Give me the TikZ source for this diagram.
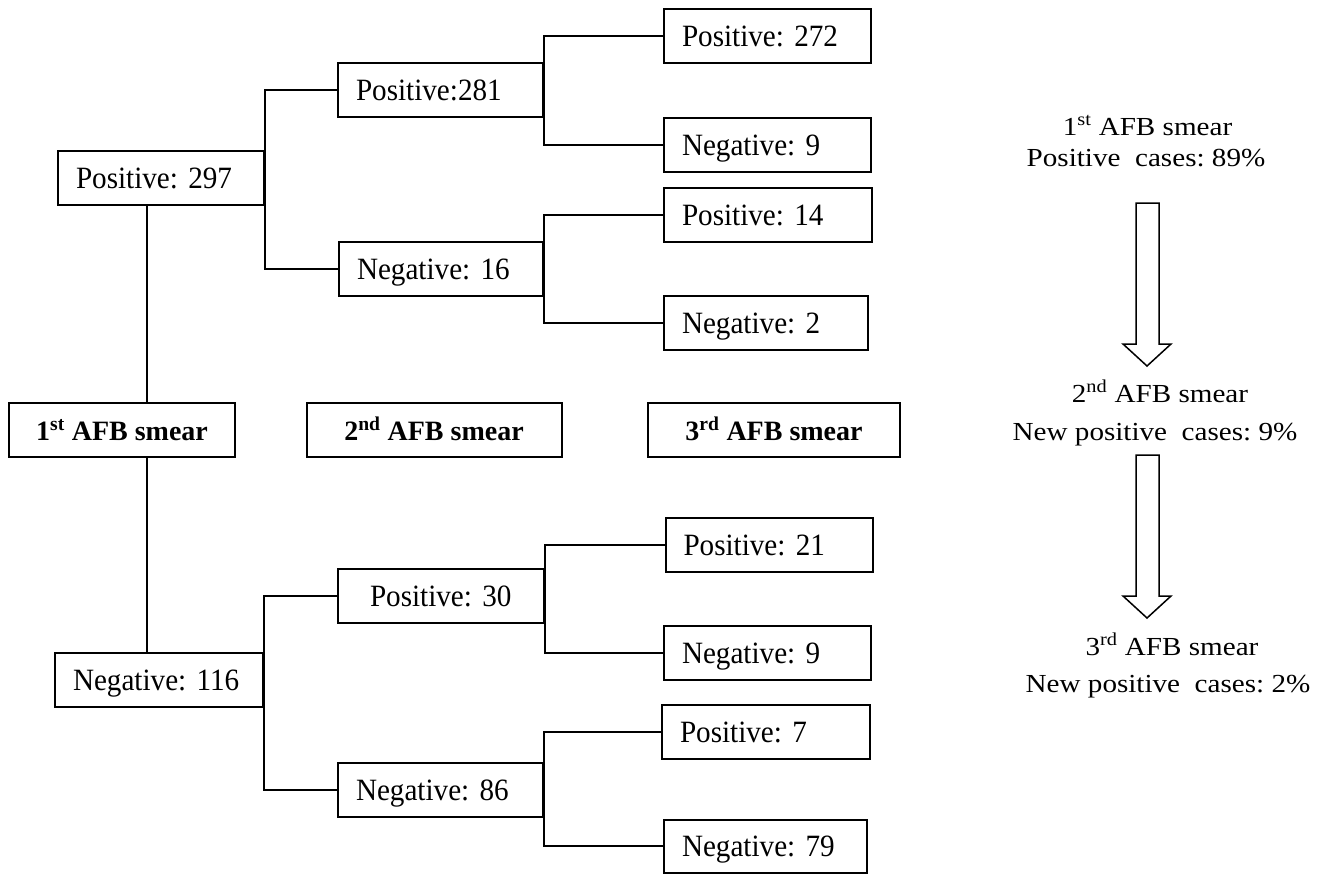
\documentclass[tikz,border=0pt]{standalone}
\usepackage{fontspec}
\setmainfont{Liberation Serif}
\newfontfamily\widefont{Liberation Serif}[FakeStretch=1.12]
\newfontfamily\treefont{Liberation Serif}[FakeStretch=0.94]
\begin{document}
\frenchspacing
\begin{tikzpicture}[x=1pt,y=-1pt,
  box/.style={draw, line width=2pt, minimum height=54pt, inner ysep=0pt,
    inner xsep=18pt, align=left, font=\frenchspacing\treefont\fontsize{31}{36}\selectfont,
    text height=21pt, text depth=0pt},
  afb/.style={draw, line width=2pt, minimum height=54pt, inner sep=0pt,
    align=center, font=\bfseries\fontsize{28}{33}\selectfont,
    text height=20pt, text depth=0pt},
  link/.style={line width=1.8pt},
  note/.style={anchor=base, inner sep=0pt, font=\frenchspacing\widefont\fontsize{26}{30}\selectfont},
  bigarrow/.style={draw, line width=1.5pt, fill=white, line join=miter}
]
\useasboundingbox (0,0) rectangle (1324,875);

% level 1
\node[box, text width=170pt] (P297) at (161,178) {Positive: 297};
\node[box, text width=172pt] (N116) at (159,680) {Negative: 116};

% stage labels
\node[afb, minimum width=226pt] (A1) at (122,430) {1\textsuperscript{st} AFB smear};
\node[afb, minimum width=255pt] (A2) at (434,430) {2\textsuperscript{nd} AFB smear};
\node[afb, minimum width=252pt] (A3) at (774,430) {3\textsuperscript{rd} AFB smear};

% level 2
\node[box, text width=169pt] (P281) at (440.5,90) {Positive:281};
\node[box, text width=168pt] (N16) at (441,269) {Negative: 16};
\node[box, inner xsep=32pt, text width=142pt] (P30) at (441,596) {Positive:~30};
\node[box, text width=169pt] (N86) at (440.5,790) {Negative: 86};

% level 3
\node[box, text width=171pt] (P272) at (767.5,36) {Positive: 272};
\node[box, text width=171pt] (N9a) at (767.5,145) {Negative: 9};
\node[box, text width=172pt] (P14) at (768,215) {Positive: 14};
\node[box, text width=168pt] (N2) at (766,323) {Negative: 2};
\node[box, text width=171pt] (P21) at (769,545) {Positive: 21};
\node[box, text width=171pt] (N9b) at (767.5,653) {Negative: 9};
\node[box, text width=172pt] (P7) at (766,732) {Positive: 7};
\node[box, text width=167pt, minimum height=53pt] (N79) at (765.5,846) {Negative: 79};

% stem through the first stage label
\coordinate (stem) at (147,0);
\draw[link] (P297.south -| stem) -- (A1.north -| stem);
\draw[link] (A1.south -| stem) -- (N116.north -| stem);

% branch connectors
\draw[link] (P281.west) -- (P281.west -| P297.east) -- (N16.west -| P297.east) -- (N16.west);
\draw[link] (P272.west) -- (P272.west -| P281.east) -- (N9a.west -| P281.east) -- (N9a.west);
\draw[link] (P14.west) -- (P14.west -| N16.east) -- (N2.west -| N16.east) -- (N2.west);
\draw[link] (P30.west) -- (P30.west -| N116.east) -- (N86.west -| N116.east) -- (N86.west);
\draw[link] (P21.west) -- (P21.west -| P30.east) -- (N9b.west -| P30.east) -- (N9b.west);
\draw[link] (P7.west) -- (P7.west -| N86.east) -- (N79.west -| N86.east) -- (N79.west);

% right-hand summary
\node[note] (t1a) at (1147.5,135) {1\textsuperscript{st} AFB smear};
\node[note] (t1b) at (1146,166) {Positive\ \ cases: 89\%};
\node[note] (t2a) at (1160,402) {2\textsuperscript{nd} AFB smear};
\node[note] (t2b) at (1155,440) {New positive\ \ cases: 9\%};
\node[note] (t3a) at (1172,655) {3\textsuperscript{rd} AFB smear};
\node[note] (t3b) at (1168,692) {New positive\ \ cases: 2\%};

\draw[bigarrow] (1136,203) -- (1136,344) -- (1123,344) -- (1147,366) -- (1171,344)
  -- (1159,344) -- (1159,203) -- cycle;
\draw[bigarrow] (1136,455) -- (1136,596) -- (1123,596) -- (1147,618) -- (1171,596)
  -- (1159,596) -- (1159,455) -- cycle;
\end{tikzpicture}
\end{document}
